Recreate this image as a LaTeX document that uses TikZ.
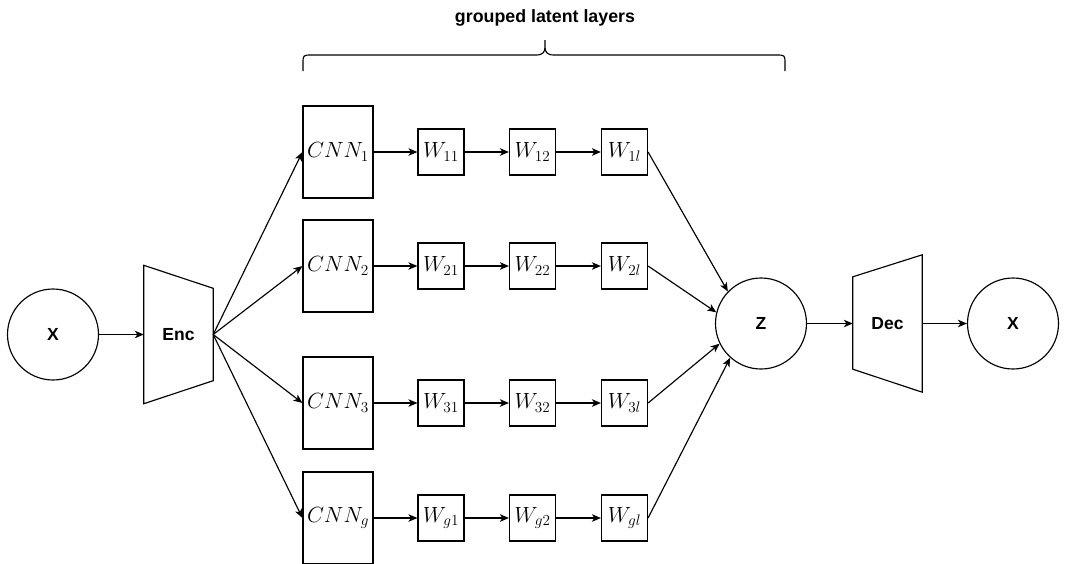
\documentclass[tikz,border=0pt]{standalone}
\usepackage{graphicx}
\usepackage{fontspec}
\setmainfont{Liberation Sans}
\usetikzlibrary{arrows.meta}
\newcommand{\bigmath}[1]{\scalebox{1.06}{$#1$}}
\tikzset{
  base/.style={draw, line width=1.15pt, inner sep=0pt},
  circ/.style={base, circle, minimum size=91pt, font=\fontsize{17.5}{20}\selectfont\bfseries},
  cnnbox/.style={base, rectangle, minimum width=70pt, minimum height=92pt, font=\fontsize{20.74}{25}\selectfont},
  wbox/.style={base, rectangle, minimum size=46pt, font=\fontsize{20.74}{25}\selectfont},
  trap/.style={inner sep=0pt, minimum width=69pt, minimum height=138pt, font=\fontsize{17.5}{20}\selectfont\bfseries},
  lbl/.style={font=\fontsize{17.8}{20}\selectfont\bfseries},
  arr/.style={-{Stealth[length=9pt,width=7.5pt,inset=2.5pt]}, line width=1.15pt},
  line/.style={line width=1.15pt},
}
\begin{document}
\begin{tikzpicture}[x=1pt,y=-1pt]
\clip (0,0) rectangle (1065,563);
% input / encoder
\node[circ] (xin) at (53,334.5) {X};
\node[trap] (enc) at (178.5,334.5) {Enc};
\draw[line] (enc.north west) -- ([yshift=-23pt]enc.north east) -- ([yshift=23pt]enc.south east) -- (enc.south west) -- cycle;
\draw[arr] (xin) -- (enc.west);
% rows
\node[cnnbox] (c1) at (338,152) {\bigmath{CNN_1}};
\node[cnnbox] (c2) at (338,266) {\bigmath{CNN_2}};
\node[cnnbox] (c3) at (338,403) {\bigmath{CNN_3}};
\node[cnnbox] (cg) at (338,518) {\bigmath{CNN_g}};
\node[wbox] (w11) at (441,152) {\bigmath{W_{11}}};
\node[wbox] (w12) at (532.5,152) {\bigmath{W_{12}}};
\node[wbox] (w1l) at (624.5,152) {\bigmath{W_{1l}}};
\node[wbox] (w21) at (441,266) {\bigmath{W_{21}}};
\node[wbox] (w22) at (532.5,266) {\bigmath{W_{22}}};
\node[wbox] (w2l) at (624.5,266) {\bigmath{W_{2l}}};
\node[wbox] (w31) at (441,403) {\bigmath{W_{31}}};
\node[wbox] (w32) at (532.5,403) {\bigmath{W_{32}}};
\node[wbox] (w3l) at (624.5,403) {\bigmath{W_{3l}}};
\node[wbox] (wg1) at (441,518) {\bigmath{W_{g1}}};
\node[wbox] (wg2) at (532.5,518) {\bigmath{W_{g2}}};
\node[wbox] (wgl) at (624.5,518) {\bigmath{W_{gl}}};
\foreach \r in {1,2,3,g}{
  \draw[arr] (enc.east) -- (c\r.west);
  \draw[arr] (c\r.east) -- (w\r1.west);
  \draw[arr] (w\r1.east) -- (w\r2.west);
  \draw[arr] (w\r2.east) -- (w\r l.west);
}
% latent
\node[circ] (z) at (761,323.5) {Z};
\draw[arr] (w1l.east) -- (z.136);
\draw[arr] (w2l.east) -- (z.166);
\draw[arr] (w3l.east) -- (z.206);
\draw[arr] (wgl.east) -- (z.228);
% decoder / output
\node[trap, minimum height=137pt] (dec) at (887.5,323.5) {Dec};
\draw[line] ([yshift=-22pt]dec.north west) -- (dec.north east) -- (dec.south east) -- ([yshift=23pt]dec.south west) -- cycle;
\draw[arr] (z) -- (dec.west);
\node[circ] (xout) at (1013,323.5) {X};
\draw[arr] (dec.east) -- (xout);
% brace
\coordinate (bl) at (303,71);
\coordinate (br) at (785,71);
\coordinate (bt) at (545,40);
\draw[line] (bl) -- (303,64) .. controls (303,55) .. (312,55) -- (536,55)
  .. controls (543,55) and (545,52) .. (545,47) -- (bt)
  -- (545,47) .. controls (545,52) and (547,55) .. (554,55) -- (776,55)
  .. controls (785,55) .. (785,64) -- (br);
\node[lbl] (title) at (545,18) {grouped latent layers};
\end{tikzpicture}
\end{document}
